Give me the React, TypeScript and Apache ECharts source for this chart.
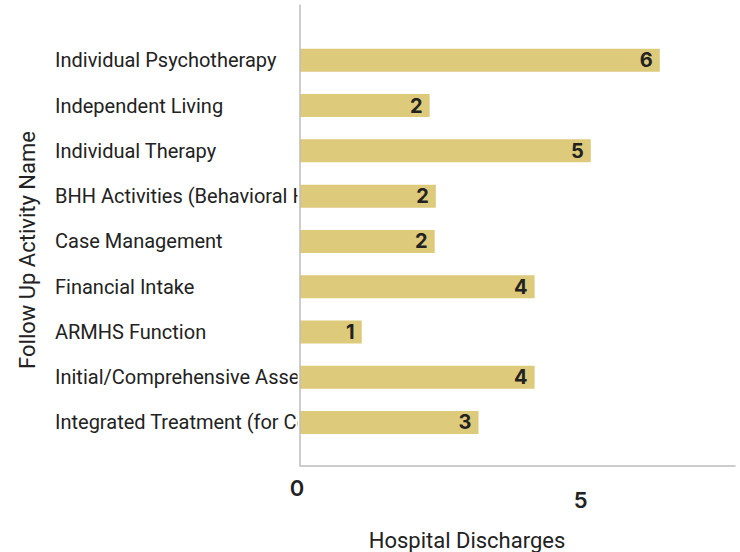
import React, { useEffect, useRef } from "react";
import * as echarts from "echarts";

const categories = [
  "Individual Psychotherapy",
  "Independent Living",
  "Individual Therapy",
  "BHH Activities (Behavioral Health Home)",
  "Case Management",
  "Financial Intake",
  "ARMHS Function",
  "Initial/Comprehensive Assessment",
  "Integrated Treatment (for Co-Occurring Disorders)",
];
const dischargeValues = [6.41, 2.31, 5.18, 2.42, 2.4, 4.18, 1.1, 4.18, 3.18];
const xTicks = [0, 5];
const xAxisTitle = "Hospital Discharges";
const yAxisTitle = "Follow Up Activity Name";

const FONT = "Roboto, Inter, 'Noto Sans', sans-serif";
const NUM_FONT = "Inter, Roboto, sans-serif";

export default function App() {
  const ref = useRef<HTMLDivElement>(null);
  useEffect(() => {
    if (!ref.current) return;
    const chart = echarts.init(ref.current, null, { renderer: "svg" });
    const xMax = 7.75;
    chart.setOption({
      animation: false,
      textStyle: { fontFamily: FONT },
      grid: [
        { left: 300, right: 5, top: 37.7, height: 407.4, containLabel: false, outerBoundsMode: "none" },
        { left: 300, right: 5, top: 5, bottom: 86.5, containLabel: false, outerBoundsMode: "none" },
      ],
      graphic: [
        {
          // mask that clips long category labels at the axis
          type: "rect",
          z: 1,
          silent: true,
          shape: { x: 297.5, y: 20, width: 443, height: 440 },
          style: { fill: "#ffffff" },
        },
        {
          type: "text",
          x: 467,
          y: 540,
          style: {
            text: xAxisTitle,
            align: "center",
            verticalAlign: "middle",
            fontFamily: FONT,
            fontSize: 22,
            fill: "#222222",
          },
        },
        {
          type: "text",
          x: 27,
          y: 250,
          rotation: Math.PI / 2,
          style: {
            text: yAxisTitle,
            align: "center",
            verticalAlign: "middle",
            fontFamily: FONT,
            fontSize: 22,
            fill: "#222222",
          },
        },
      ],
      xAxis: [
        {
          gridIndex: 0,
          type: "value",
          min: 0,
          max: xMax,
          show: false,
        },
        {
          gridIndex: 1,
          type: "value",
          min: 0,
          max: xMax,
          interval: 5,
          z: 3,
          axisLine: { show: true, lineStyle: { color: "#bdbdbd", width: 1.5 } },
          axisTick: { show: false },
          splitLine: { show: false },
          axisLabel: {
            margin: 11,
            showMaxLabel: false,
            formatter: (v: number) =>
              xTicks.indexOf(v) === 0 ? "{a|" + v + "}" : "{b|" + v + "}",
            rich: {
              a: {
                fontFamily: NUM_FONT,
                fontSize: 22,
                fontWeight: 600,
                color: "#222222",
                padding: [0, 6, 0, 0],
              },
              b: {
                fontFamily: NUM_FONT,
                fontSize: 22,
                fontWeight: 600,
                color: "#222222",
                padding: [12, 0, 0, 0],
              },
            },
          },
        },
      ],
      yAxis: [
        {
          gridIndex: 0,
          type: "category",
          inverse: true,
          z: 0,
          data: categories,
          axisLine: { show: false },
          axisTick: { show: false },
          axisLabel: {
            align: "left",
            margin: 245,
            width: 258,
            overflow: "truncate",
            ellipsis: "",
            fontFamily: FONT,
            fontSize: 20,
            color: "#222222",
          },
        },
        {
          gridIndex: 1,
          type: "value",
          min: 0,
          max: 1,
          z: 3,
          axisLine: { show: true, lineStyle: { color: "#bdbdbd", width: 1.5 } },
          axisTick: { show: false },
          axisLabel: { show: false },
          splitLine: { show: false },
        },
      ],
      series: [
        {
          type: "bar",
          xAxisIndex: 0,
          yAxisIndex: 0,
          z: 2,
          data: dischargeValues,
          barWidth: 23,
          itemStyle: { color: "#DDCA7A" },
          label: {
            show: true,
            position: "insideRight",
            distance: 7,
            formatter: (p: any) => String(Math.round(p.value)),
            fontFamily: NUM_FONT,
            fontSize: 20,
            fontWeight: 700,
            color: "#222222",
          },
        },
      ],
    });
    return () => chart.dispose();
  }, []);
  return (
    <div
      ref={ref}
      style={{ position: "absolute", left: 0, top: 0, width: 740, height: 552 }}
    />
  );
}
